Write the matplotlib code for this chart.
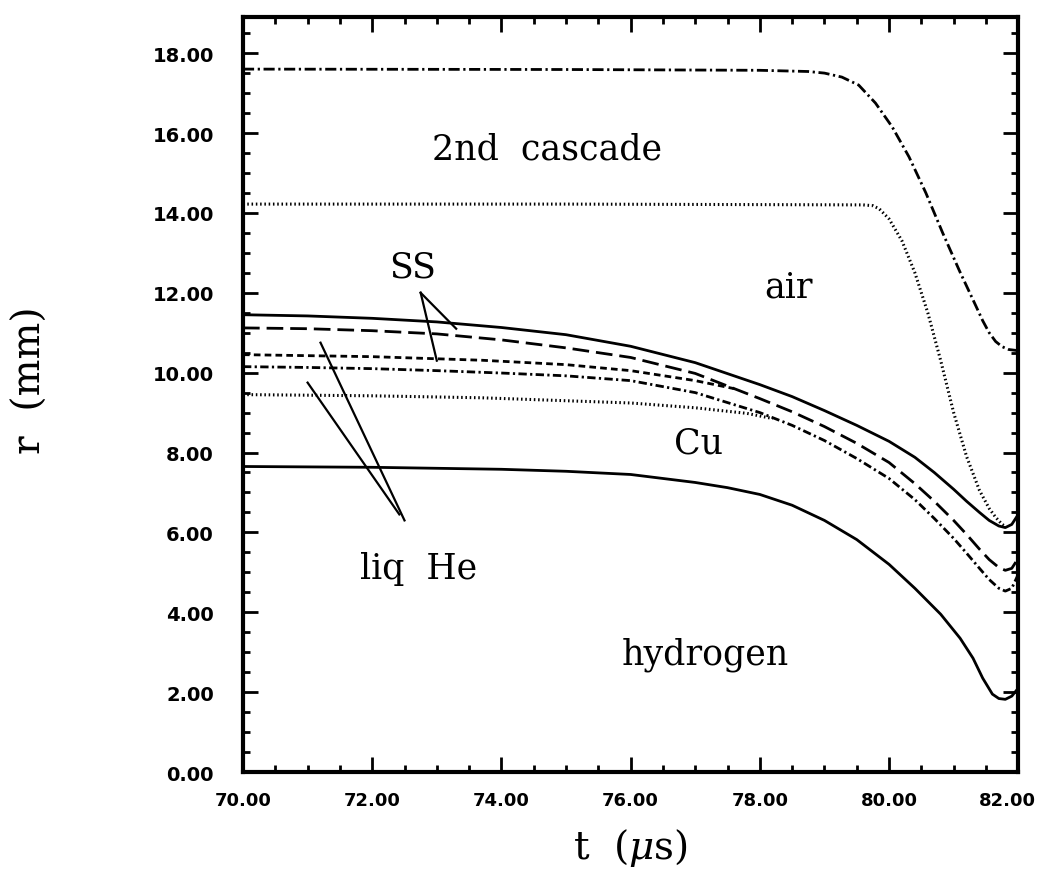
import matplotlib
matplotlib.use('Agg')
from matplotlib import pyplot as plt
from matplotlib.ticker import MultipleLocator, FormatStrFormatter
from matplotlib.transforms import ScaledTranslation

# curves, t in microseconds, r in mm
t_cascade_out = [70, 75, 78, 78.75, 79.0, 79.27, 79.53, 79.79, 80.05, 80.31, 80.57, 80.83, 81.09, 81.35, 81.45, 81.55, 81.65, 81.75, 81.85, 82.0]
r_cascade_out = [17.6, 17.59, 17.57, 17.54, 17.5, 17.4, 17.2, 16.75, 16.15, 15.4, 14.5, 13.5, 12.55, 11.65, 11.3, 11.0, 10.78, 10.65, 10.58, 10.55]

t_cascade_in = [70, 75, 79.6, 79.75, 79.85, 80.0, 80.2, 80.4, 80.6, 80.8, 81.0, 81.2, 81.4, 81.55, 81.65, 81.75, 81.8]
r_cascade_in = [14.22, 14.22, 14.2, 14.18, 14.1, 13.85, 13.3, 12.5, 11.5, 10.3, 9.0, 7.9, 7.05, 6.6, 6.38, 6.2, 6.15]

t_layers = [70, 71, 72, 73, 74, 75, 76, 77, 78, 78.5, 79, 79.5, 80, 80.4, 80.7, 81.0, 81.2, 81.4, 81.55, 81.7, 81.8, 81.9, 82.0]
r_ss_out = [11.45, 11.42, 11.36, 11.27, 11.13, 10.95, 10.66, 10.25, 9.7, 9.4, 9.05, 8.68, 8.28, 7.88, 7.5, 7.08, 6.78, 6.5, 6.3, 6.16, 6.12, 6.2, 6.45]
r_ss_in = [11.12, 11.1, 11.05, 10.97, 10.82, 10.62, 10.38, 9.98, 9.35, 9.02, 8.65, 8.23, 7.75, 7.22, 6.78, 6.3, 5.95, 5.58, 5.32, 5.12, 5.05, 5.1, 5.35]
r_he_in = [10.15, 10.13, 10.1, 10.05, 9.99, 9.92, 9.8, 9.5, 9.0, 8.68, 8.3, 7.85, 7.35, 6.82, 6.35, 5.85, 5.48, 5.1, 4.82, 4.6, 4.53, 4.6, 4.95]

t_he_out = [70, 72, 73.7, 75, 76, 77, 77.6]
r_he_out = [10.45, 10.4, 10.31, 10.2, 10.05, 9.8, 9.6]

t_cu_in = [70, 72, 73.7, 76, 77, 77.8, 78.2]
r_cu_in = [9.45, 9.42, 9.37, 9.24, 9.12, 8.98, 8.85]

t_h2 = [70, 72, 74, 75, 76, 77, 77.5, 78, 78.5, 79, 79.5, 80, 80.4, 80.8, 81.1, 81.3, 81.45, 81.6, 81.7, 81.8, 81.9, 82]
r_h2 = [7.65, 7.63, 7.58, 7.53, 7.45, 7.25, 7.12, 6.95, 6.68, 6.3, 5.82, 5.2, 4.6, 3.95, 3.35, 2.85, 2.35, 1.95, 1.84, 1.82, 1.9, 2.1]

x_ticks = [70, 72, 74, 76, 78, 80, 82]
y_ticks = [0, 2, 4, 6, 8, 10, 12, 14, 16, 18]

plt.rcParams['mathtext.fontset'] = 'dejavuserif'

fig = plt.figure(figsize=(10.42, 8.87), dpi=100)
ax = fig.add_axes([0.2332, 0.1285, 0.744, 0.851])

lw = 2.0
dots = (0, (0.5, 0.9))
ax.plot(t_cascade_out, r_cascade_out, color='black', lw=lw, linestyle=(0, (4, 1.3, 0.8, 1.3)))
ax.plot(t_cascade_in, r_cascade_in, color='black', lw=2.2, linestyle=dots)
ax.plot(t_layers, r_ss_out, color='black', lw=lw)
ax.plot(t_layers, r_ss_in, color='black', lw=lw, linestyle=(0, (6, 2.5)))
ax.plot(t_he_out, r_he_out, color='black', lw=lw, linestyle=(0, (2.4, 1.5)))
ax.plot(t_layers, r_he_in, color='black', lw=lw, linestyle=(0, (3, 1.2, 0.8, 1.2)))
ax.plot(t_cu_in, r_cu_in, color='black', lw=2.2, linestyle=dots)
ax.plot(t_h2, r_h2, color='black', lw=lw)

ax.set_xlim(70, 82)
ax.set_ylim(0, 18.9)

# region labels
txt = dict(family='DejaVu Serif', fontsize=25, color='black', ha='center', va='center')
ax.text(74.7, 15.6, '2nd  cascade', **txt)
ax.text(72.62, 12.65, 'SS', **txt)
ax.text(78.45, 12.15, 'air', **txt)
ax.text(77.05, 8.25, 'Cu', **txt)
ax.text(72.72, 5.1, 'liq  He', **txt)
ax.text(77.15, 2.95, 'hydrogen', **txt)

# leader lines
lead = dict(color='black', lw=1.6)
ax.plot([72.75, 73.3], [12.0, 11.1], **lead)
ax.plot([72.75, 73.0], [12.0, 10.3], **lead)
ax.plot([71.2, 72.5], [10.75, 6.3], **lead)
ax.plot([71.0, 72.42], [9.75, 6.45], **lead)

ax.set_xticks(x_ticks)
ax.set_yticks(y_ticks)
ax.xaxis.set_minor_locator(MultipleLocator(0.5))
ax.yaxis.set_minor_locator(MultipleLocator(0.5))
ax.xaxis.set_major_formatter(FormatStrFormatter('%.2f'))
ax.yaxis.set_major_formatter(FormatStrFormatter('%.2f'))
ax.tick_params(which='both', direction='in', top=True, right=True, width=2, color='black')
ax.tick_params(which='major', length=11)
ax.tick_params(which='minor', length=5)
ax.tick_params(axis='x', which='major', pad=14, labelsize=13)
ax.tick_params(axis='y', which='major', pad=21, labelsize=14)
for lab in ax.get_xticklabels() + ax.get_yticklabels():
    lab.set_fontweight('bold')
for sp in ax.spines.values():
    sp.set_linewidth(3)

# keep the last x label inside the canvas
last = ax.xaxis.get_major_ticks()[-1].label1
last.set_transform(last.get_transform() + ScaledTranslation(-8 / 72, 0, fig.dpi_scale_trans))

ax.set_xlabel(r't  $(\mu$s$)$', fontsize=28, family='DejaVu Serif', labelpad=12)
ax.set_ylabel('r  (mm)', fontsize=28, family='DejaVu Serif')
ax.yaxis.set_label_coords(-0.25, 0.52)

fig.savefig('out.png', dpi=100, facecolor='white')
